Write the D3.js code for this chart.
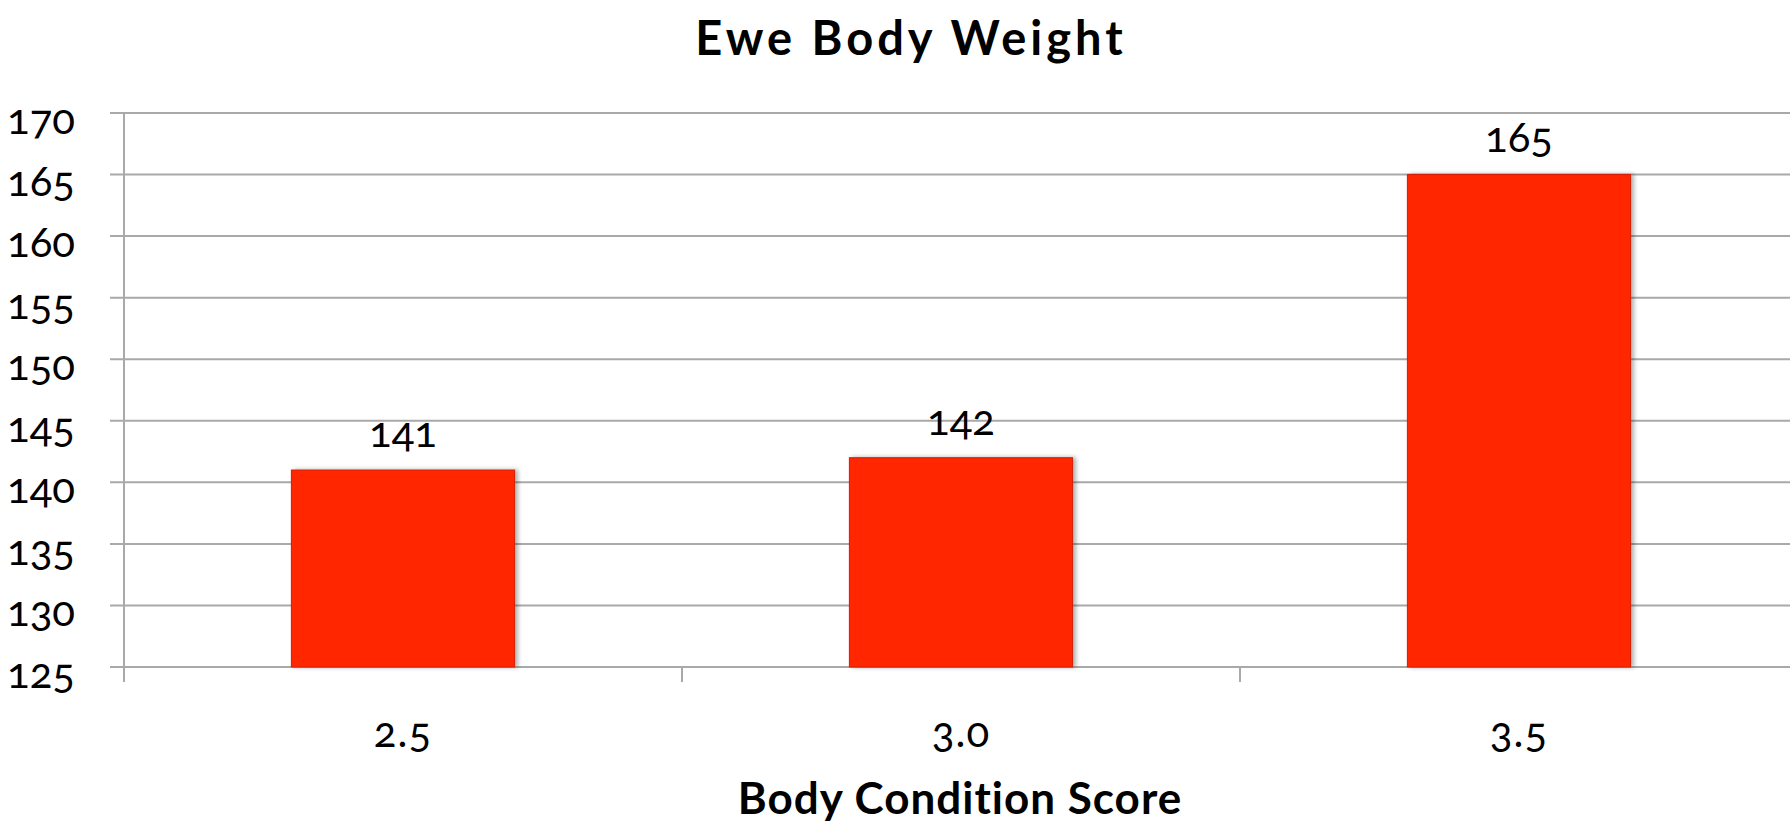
<!DOCTYPE html>
<html>
<head>
<meta charset="utf-8">
<script src="https://cdn.jsdelivr.net/npm/d3@7"></script>
<style>
  html, body { margin: 0; padding: 0; background: #fff; overflow: hidden; }
  svg text { font-family: Lato, "Open Sans", sans-serif; font-variant-numeric: oldstyle-nums; fill: #000; }
</style>
</head>
<body>
<div id="chart"></div>
<script>
// chart data
const categories = ["2.5", "3.0", "3.5"];
const weights = [141, 142, 165];
const yTicks = [125, 130, 135, 140, 145, 150, 155, 160, 165, 170];
const chartTitle = "Ewe Body Weight";
const xTitle = "Body Condition Score";

const W = 1790, H = 824;
const margin = {top: 113, right: 0, bottom: 157, left: 124};
const plotW = 1798 - margin.left;   // right edge runs just past the window
const plotH = H - margin.top - margin.bottom;

const svg = d3.select("#chart").append("svg")
    .attr("width", W)
    .attr("height", H);

const defs = svg.append("defs");
const shadow = defs.append("filter").attr("id", "shadow")
    .attr("x", "-10%").attr("y", "-10%").attr("width", "130%").attr("height", "120%");
shadow.append("feDropShadow")
    .attr("dx", 3).attr("dy", 0).attr("stdDeviation", 2)
    .attr("flood-color", "#000").attr("flood-opacity", 0.3);

const g = svg.append("g")
    .attr("transform", "translate(" + margin.left + "," + margin.top + ")");

const x = d3.scaleBand().domain(categories).range([0, plotW]).padding(0);
const y = d3.scaleLinear().domain([125, 170]).range([plotH, 0]);
const barW = x.bandwidth() * 0.4;

// gridlines
g.append("g")
    .selectAll("line")
    .data(yTicks)
    .enter().append("line")
    .attr("x1", -14)
    .attr("x2", plotW)
    .attr("y1", d => y(d))
    .attr("y2", d => y(d))
    .attr("stroke", "#a9a9a9")
    .attr("stroke-width", 2);

// y axis line
g.append("line")
    .attr("x1", 0).attr("x2", 0)
    .attr("y1", 0).attr("y2", plotH + 15)
    .attr("stroke", "#a9a9a9")
    .attr("stroke-width", 2);

// x ticks between categories
g.append("g")
    .selectAll("line")
    .data(categories.slice(1))
    .enter().append("line")
    .attr("x1", d => x(d)).attr("x2", d => x(d))
    .attr("y1", plotH).attr("y2", plotH + 15)
    .attr("stroke", "#a9a9a9")
    .attr("stroke-width", 2);

// y labels
g.append("g")
    .selectAll("text")
    .data(yTicks)
    .enter().append("text")
    .attr("x", -49)
    .attr("y", d => y(d) + 21)
    .attr("text-anchor", "end")
    .attr("font-size", 42)
    .text(d => d);

// bars
g.append("g")
    .selectAll("rect")
    .data(weights)
    .enter().append("rect")
    .attr("x", (d, i) => x(categories[i]) + (x.bandwidth() - barW) / 2)
    .attr("y", d => y(d))
    .attr("width", barW)
    .attr("height", d => plotH - y(d))
    .attr("fill", "#ff2600")
    .attr("stroke", "#d42000")
    .attr("stroke-width", 1)
    .attr("filter", "url(#shadow)");

// value labels
g.append("g")
    .selectAll("text")
    .data(weights)
    .enter().append("text")
    .attr("x", (d, i) => x(categories[i]) + x.bandwidth() / 2)
    .attr("y", d => y(d) - 23)
    .attr("text-anchor", "middle")
    .attr("font-size", 42)
    .text(d => d);

// x labels
g.append("g")
    .selectAll("text")
    .data(categories)
    .enter().append("text")
    .attr("x", d => x(d) + x.bandwidth() / 2)
    .attr("y", plotH + 80)
    .attr("text-anchor", "middle")
    .attr("font-size", 42)
    .attr("letter-spacing", 1)
    .text(d => d);

// titles
svg.append("text")
    .attr("x", 911)
    .attr("y", 55)
    .attr("text-anchor", "middle")
    .attr("font-size", 47)
    .attr("font-weight", "bold")
    .attr("letter-spacing", 4)
    .text(chartTitle);

svg.append("text")
    .attr("x", 960)
    .attr("y", 814)
    .attr("text-anchor", "middle")
    .attr("font-size", 44)
    .attr("font-weight", "bold")
    .attr("letter-spacing", 1)
    .text(xTitle);
</script>
</body>
</html>
